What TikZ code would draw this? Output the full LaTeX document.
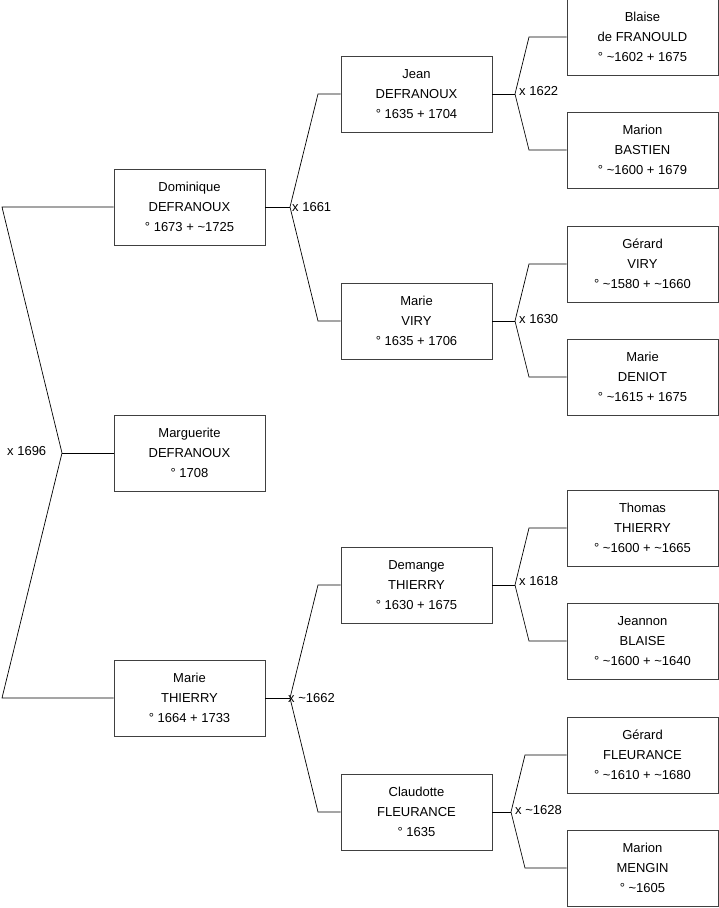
\documentclass[tikz,border=0pt]{standalone}
\usepackage{fontspec}
\setmainfont{Liberation Sans}
\begin{document}
\begin{tikzpicture}[x=1pt,y=-1pt,
  person/.style={draw=black!75, line width=0.9pt, minimum width=151pt, minimum height=76pt,
    align=center, inner sep=0pt, font=\fontsize{13}{20}\selectfont},
  link/.style={line width=0.7pt, black},
  lbl/.style={anchor=west, inner sep=0pt, font=\fontsize{13}{15}\selectfont}]
\useasboundingbox (0,0) rectangle (719,908);
% generation 1
\node[person] (dom)  at (189.5,207) {Dominique\\DEFRANOUX\\° 1673 + \textasciitilde 1725};
\node[person] (marg) at (189.5,453) {Marguerite\\DEFRANOUX\\° 1708};
\node[person] (mth)  at (189.5,698) {Marie\\THIERRY\\° 1664 + 1733};
% generation 2
\node[person] (jean) at (416.5,94)  {Jean\\DEFRANOUX\\° 1635 + 1704};
\node[person] (mvi)  at (416.5,321) {Marie\\VIRY\\° 1635 + 1706};
\node[person] (dem)  at (416.5,585) {Demange\\THIERRY\\° 1630 + 1675};
\node[person] (cla)  at (416.5,812) {Claudotte\\FLEURANCE\\° 1635};
% generation 3
\node[person] (bla)  at (642.5,37)  {Blaise\\de FRANOULD\\° \textasciitilde 1602 + 1675};
\node[person] (mba)  at (642.5,150) {Marion\\BASTIEN\\° \textasciitilde 1600 + 1679};
\node[person] (gvi)  at (642.5,264) {Gérard\\VIRY\\° \textasciitilde 1580 + \textasciitilde 1660};
\node[person] (mde)  at (642.5,377) {Marie\\DENIOT\\° \textasciitilde 1615 + 1675};
\node[person] (tth)  at (642.5,528) {Thomas\\THIERRY\\° \textasciitilde 1600 + \textasciitilde 1665};
\node[person] (jbl)  at (642.5,641) {Jeannon\\BLAISE\\° \textasciitilde 1600 + \textasciitilde 1640};
\node[person] (gfl)  at (642.5,755) {Gérard\\FLEURANCE\\° \textasciitilde 1610 + \textasciitilde 1680};
\node[person] (mme)  at (642.5,868) {Marion\\MENGIN\\° \textasciitilde 1605};
% root connector
\coordinate (r1) at (2,207);
\coordinate (r2) at (2,698);
\coordinate (ra) at (62,453);
\draw[link] (dom.west) -- (r1) -- (ra) -- (r2) -- (mth.west);
\draw[link] (ra) -- (marg.west);
\node[lbl] (l0) at (7,451) {x 1696};
% generation 1 -> 2
\coordinate (a1) at (290,207);
\coordinate (a1t) at (318,94);
\coordinate (a1b) at (318,321);
\draw[link] (dom.east) -- (a1);
\draw[link] (jean.west) -- (a1t) -- (a1) -- (a1b) -- (mvi.west);
\node[lbl] (l1) at (292,207) {x 1661};
\coordinate (a2) at (290,698);
\coordinate (a2t) at (318,585);
\coordinate (a2b) at (318,812);
\draw[link] (mth.east) -- (a2);
\draw[link] (dem.west) -- (a2t) -- (a2) -- (a2b) -- (cla.west);
\node[lbl] (l2) at (288,698) {x \textasciitilde 1662};
% generation 2 -> 3
\coordinate (b1) at (515,94);
\coordinate (b1t) at (529,37);
\coordinate (b1b) at (529,150);
\draw[link] (jean.east) -- (b1);
\draw[link] (bla.west) -- (b1t) -- (b1) -- (b1b) -- (mba.west);
\node[lbl] (l3) at (519,91) {x 1622};
\coordinate (b2) at (515,321);
\coordinate (b2t) at (529,264);
\coordinate (b2b) at (529,377);
\draw[link] (mvi.east) -- (b2);
\draw[link] (gvi.west) -- (b2t) -- (b2) -- (b2b) -- (mde.west);
\node[lbl] (l4) at (519,319) {x 1630};
\coordinate (b3) at (515,585);
\coordinate (b3t) at (529,528);
\coordinate (b3b) at (529,641);
\draw[link] (dem.east) -- (b3);
\draw[link] (tth.west) -- (b3t) -- (b3) -- (b3b) -- (jbl.west);
\node[lbl] (l5) at (519,581) {x 1618};
\coordinate (b4) at (511,812);
\coordinate (b4t) at (525,755);
\coordinate (b4b) at (525,868);
\draw[link] (cla.east) -- (b4);
\draw[link] (gfl.west) -- (b4t) -- (b4) -- (b4b) -- (mme.west);
\node[lbl] (l6) at (515,810) {x \textasciitilde 1628};
\end{tikzpicture}
\end{document}
